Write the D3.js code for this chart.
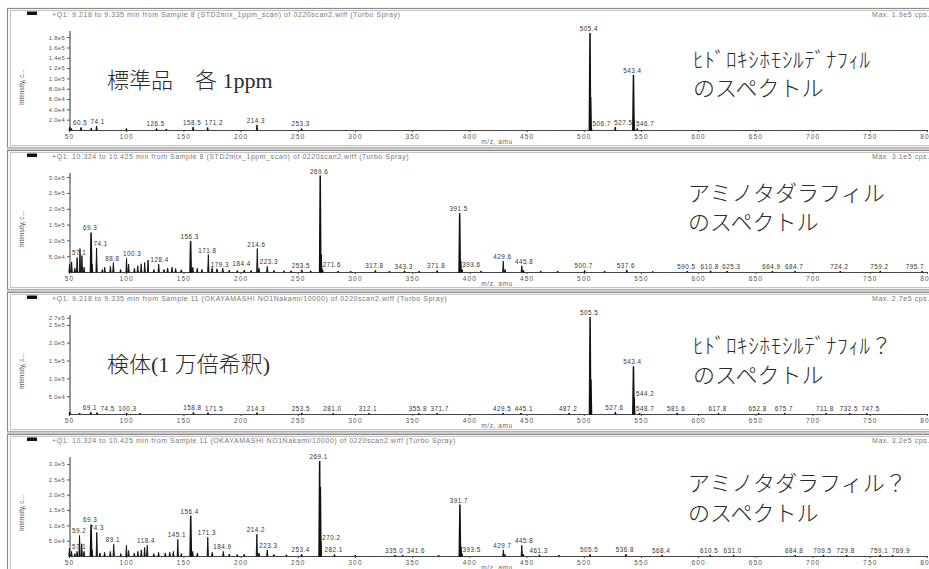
<!DOCTYPE html>
<html>
<head>
<meta charset="utf-8">
<script src="https://cdn.jsdelivr.net/npm/d3@7"></script>
<style>
  html, body { margin: 0; padding: 0; background: #fff; }
  svg { display: block; }
</style>
</head>
<body>
<svg id="chart" width="929" height="569"></svg>
<script>
// ---- Scan headers and notes for the four Q1 spectra ----
const scanTitles = [
  "+Q1: 9.218 to 9.335 min from Sample 8 (STD2mix_1ppm_scan) of 0220scan2.wiff (Turbo Spray)",
  "+Q1: 10.324 to 10.425 min from Sample 8 (STD2mix_1ppm_scan) of 0220scan2.wiff (Turbo Spray)",
  "+Q1: 9.218 to 9.335 min from Sample 11 (OKAYAMASHI NO1Nakami/10000) of 0220scan2.wiff (Turbo Spray)",
  "+Q1: 10.324 to 10.425 min from Sample 11 (OKAYAMASHI NO1Nakami/10000) of 0220scan2.wiff (Turbo Spray)"
];
const maxLabels = ["Max. 1.9e5 cps.", "Max. 3.1e5 cps.", "Max. 2.7e5 cps.", "Max. 3.2e5 cps."];
const sampleNotes = ["標準品　各 1ppm", "", "検体(1 万倍希釈)", ""];
const compoundNotes = [
  ["ﾋﾄﾞﾛｷｼﾎﾓｼﾙﾃﾞﾅﾌｨﾙ", "のスペクトル"],
  ["アミノタダラフィル", "のスペクトル"],
  ["ﾋﾄﾞﾛｷｼﾎﾓｼﾙﾃﾞﾅﾌｨﾙ？", "のスペクトル"],
  ["アミノタダラフィル？", "のスペクトル"]
];

// ---- Axes ----
const mzDomain = [50, 800];
const mzTicks = d3.range(50, 801, 50);
const intensityMax = [1.9e5, 3.1e5, 2.75e5, 3.2e5];
const intensityTicks = [
  [2e4, 4e4, 6e4, 8e4, 1e5, 1.2e5, 1.4e5, 1.6e5, 1.8e5],
  [5e4, 1e5, 1.5e5, 2e5, 2.5e5, 3e5],
  [5e4, 1e5, 1.5e5, 2e5, 2.5e5, 2.7e5],
  [5e4, 1e5, 1.5e5, 2e5, 2.5e5, 3e5]
];

// ---- Peak lists: [m/z, intensity (cps), labelled?] ----
const peaksStd1 = [
  [50.6, 6e3], [52.1, 3e3], [60.5, 5e3, 1], [69.5, 4e3], [74.1, 8e3, 1], [100.2, 3e3],
  [126.5, 3e3, 1], [135.1, 2e3], [158.5, 6e3, 1], [171.2, 5e3, 1], [214.3, 1e4, 1],
  [253.3, 3e3, 1], [505.4, 1.88e5, 1], [505.9, 6.4e4], [506.7, 3e3, 1], [527.5, 6e3, 1],
  [543.4, 1.07e5, 1], [543.9, 2e4], [546.7, 3e3, 1]
];
const peaksStd2 = [
  [50.5, 2.5e4], [52.3, 3.2e4], [55.1, 1.2e4], [57.1, 4.6e4, 1], [59.6, 7.4e4], [61.3, 5.2e4], [63.2, 1.5e4],
  [69.3, 1.25e5, 1], [70.2, 2.5e4], [74.1, 7.6e4, 1], [79.1, 8e3], [81.2, 1.5e4], [86.2, 1.8e4], [88.8, 3e4, 1],
  [95.1, 8e3], [100.3, 4.3e4, 1], [102.1, 2.5e4], [107.2, 1.2e4], [110.1, 2e4], [113.1, 2.6e4], [116.2, 3e4],
  [119.1, 3.8e4], [124.2, 8e3], [128.4, 2.5e4, 1], [133.1, 8e3], [136.2, 1.3e4], [140.1, 1.5e4], [143.2, 1.1e4],
  [148.1, 7e3], [156.3, 9.8e4, 1], [158.2, 1.5e4], [162.1, 1.2e4], [166.2, 8e3], [171.8, 5.5e4, 1], [175.1, 1.4e4],
  [179.3, 1e4, 1], [184.4, 1.2e4, 1], [190.1, 6e3], [197.2, 5e3], [203.2, 6e3], [209.1, 5e3], [214.6, 7.4e4, 1],
  [216.1, 1.2e4], [223.3, 1.8e4, 1], [229.2, 5e3], [238.1, 4e3], [244.2, 4e3], [253.5, 7e3, 1], [261.2, 4e3],
  [269.6, 3.05e5, 1], [270.6, 5.5e4], [271.6, 8e3, 1], [285.2, 3e3], [296.1, 3e3], [317.8, 5e3, 1], [330.1, 3e3],
  [343.3, 4e3, 1], [356.2, 3e3], [371.8, 5e3, 1], [391.5, 1.86e5, 1], [392.5, 3.5e4], [393.6, 8e3, 1], [410.2, 3e3],
  [429.6, 3.4e4, 1], [431.2, 8e3], [445.8, 2e4, 1], [447.2, 6e3], [462.3, 3e3], [477.1, 3e3], [500.7, 5e3, 1],
  [518.2, 3e3], [537.6, 7e3, 1], [560.1, 2e3], [590.5, 3e3, 1], [610.8, 4e3, 1], [625.3, 3e3, 1], [664.9, 3e3, 1],
  [684.7, 3e3, 1], [724.2, 3e3, 1], [759.2, 3e3, 1], [795.7, 3e3, 1]
];
const peaksSample1 = [
  [50.6, 6e3], [59.2, 3e3], [69.1, 5e3, 1], [74.5, 4e3, 1], [100.3, 3e3, 1], [112.1, 2e3], [158.8, 5e3, 1],
  [171.5, 4e3, 1], [214.3, 4e3, 1], [253.5, 3e3, 1], [281.0, 2e3, 1], [312.1, 2e3, 1], [355.8, 2e3, 1],
  [371.7, 2e3, 1], [429.5, 3e3, 1], [445.1, 2e3, 1], [487.2, 3e3, 1], [505.5, 2.72e5, 1], [506.2, 9.7e4],
  [527.6, 6e3, 1], [543.4, 1.34e5, 1], [544.2, 4.6e4, 1], [548.7, 3e3, 1], [581.6, 3e3, 1], [617.8, 2e3, 1],
  [652.8, 2e3, 1], [675.7, 2e3, 1], [711.8, 2e3, 1], [732.5, 2e3, 1], [747.5, 2e3, 1]
];
const peaksSample2 = [
  [50.4, 2.5e4], [52.2, 1.5e4], [55.1, 8e3], [57.1, 1.5e4, 1], [59.2, 6.7e4, 1], [61.1, 4e4], [63.1, 1.5e4],
  [69.3, 1.03e5, 1], [70.2, 2e4], [74.3, 7.7e4, 1], [77.1, 1e4], [81.1, 1.2e4], [86.1, 1.5e4], [89.1, 3.8e4, 1],
  [95.2, 8e3], [100.2, 3.5e4], [102.1, 1.8e4], [107.1, 1e4], [110.2, 1.5e4], [113.2, 2e4], [116.1, 2.8e4],
  [118.4, 3.5e4, 1], [124.1, 8e3], [128.3, 1.2e4], [134.2, 1e4], [138.1, 1.2e4], [141.2, 1.5e4], [145.1, 5.4e4, 1],
  [148.2, 8e3], [156.4, 1.31e5, 1], [158.1, 1.5e4], [162.2, 1e4], [171.3, 6.1e4, 1], [175.2, 1.2e4],
  [184.9, 1.5e4, 1], [190.1, 6e3], [197.1, 5e3], [203.1, 6e3], [214.2, 7.1e4, 1], [216.1, 1e4], [223.3, 2e4, 1],
  [229.1, 5e3], [240.1, 4e3], [253.4, 6e3, 1], [269.1, 3.1e5, 1], [269.7, 2.25e5], [270.2, 4.5e4, 1],
  [282.1, 5e3, 1], [300.2, 3e3], [335.0, 3e3, 1], [341.6, 3e3, 1], [373.1, 3e3], [391.7, 1.68e5, 1],
  [392.7, 3e4], [393.5, 8e3, 1], [429.7, 2e4, 1], [431.1, 5e3], [445.8, 3.5e4, 1], [447.1, 6e3], [461.3, 4e3, 1],
  [478.2, 3e3], [505.5, 5e3, 1], [536.8, 6e3, 1], [568.4, 3e3, 1], [610.5, 3e3, 1], [631.0, 3e3, 1],
  [684.8, 3e3, 1], [709.5, 3e3, 1], [729.8, 3e3, 1], [759.1, 3e3, 1], [769.9, 3e3, 1]
];
const spectra = [peaksStd1, peaksStd2, peaksSample1, peaksSample2];

// ---- Layout ----
const W = 929;
const panelTop = [8, 150, 292, 434];
const panelH = 139;
const plotTop = 24, plotBase = 122;       // relative to panel top
const axisX = 70;

const svg = d3.select("#chart");
const x = d3.scaleLinear().domain(mzDomain).range([69, 927]);

const fmtY = v => v >= 1e5 ? (v / 1e5).toFixed(1) + "e5" : (v / 1e4).toFixed(1) + "e4";
const smallFont = "'Liberation Sans', Arial, sans-serif";
const noteFont = "'Liberation Serif', 'Noto Sans CJK JP', serif";
const labelSize = 6.3, labelSpacing = 0.5;
const charW = 3.55 + labelSpacing;   // approximate advance per character of a peak label

spectra.forEach((peaks, pi) => {
  const T = panelTop[pi];
  const g = svg.append("g").attr("transform", `translate(0,${T})`);

  // frame
  g.append("rect").attr("x", 7.5).attr("y", 0.5).attr("width", W).attr("height", panelH)
    .attr("fill", "#fff").attr("stroke", "#8c8c8c").attr("stroke-width", 1.2);
  g.append("rect").attr("x", 10.5).attr("y", 2.5).attr("width", W).attr("height", panelH - 4)
    .attr("fill", "none").attr("stroke", "#c4c4c4").attr("stroke-width", 1);
  g.append("rect").attr("x", 7).attr("y", panelH + 0.5).attr("width", W).attr("height", 2.5)
    .attr("fill", "#cfcfcf");

  // header
  g.append("rect").attr("x", 27).attr("y", 3.5).attr("width", 10).attr("height", 3.5).attr("fill", "#111");
  g.append("text").attr("x", 52).attr("y", 8.5).text(scanTitles[pi])
    .attr("font-family", smallFont).attr("font-size", 7).attr("letter-spacing", 0.55).attr("fill", "#777");
  g.append("text").attr("x", 872).attr("y", 8.5).text(maxLabels[pi])
    .attr("font-family", smallFont).attr("font-size", 7).attr("letter-spacing", 0.55).attr("fill", "#777");

  const y = d3.scaleLinear().domain([0, intensityMax[pi]]).range([plotBase, plotTop]);

  // y axis
  const yAxis = g.append("g").attr("transform", `translate(${axisX},0)`)
    .call(d3.axisLeft(y).tickValues(intensityTicks[pi]).tickFormat(fmtY).tickSize(3).tickPadding(2));
  yAxis.select(".domain").attr("d", `M0,${plotTop - 1}V${plotBase}`).attr("stroke", "#333");
  yAxis.selectAll(".tick line").attr("stroke", "#555");
  yAxis.selectAll("text").attr("font-family", smallFont).attr("font-size", 5.8)
    .attr("letter-spacing", 0.35).attr("fill", "#555");

  g.append("text").attr("transform", `translate(24,${(plotTop + plotBase) / 2 + 6}) rotate(-90)`)
    .attr("text-anchor", "middle").text("Intensity, c...")
    .attr("font-family", smallFont).attr("font-size", 6.5).attr("fill", "#555");

  // x axis
  const xAxis = g.append("g").attr("transform", `translate(0,${plotBase})`)
    .call(d3.axisBottom(x).tickValues(mzTicks).tickSize(2).tickPadding(2).tickSizeOuter(0));
  xAxis.select(".domain").attr("stroke", "#444");
  xAxis.selectAll(".tick line").attr("stroke", "#444");
  xAxis.selectAll("text").attr("font-family", smallFont).attr("font-size", 6.5)
    .attr("letter-spacing", 1.2).attr("fill", "#555");
  // minor ticks every 10 amu
  g.append("g").selectAll("line").data(d3.range(50, 801, 10)).join("line")
    .attr("x1", d => x(d)).attr("x2", d => x(d))
    .attr("y1", plotBase).attr("y2", plotBase + 1.2).attr("stroke", "#666").attr("stroke-width", 0.7);

  g.append("text").attr("x", 497).attr("y", plotBase + 14).attr("text-anchor", "middle")
    .text("m/z, amu").attr("font-family", smallFont).attr("font-size", 6.5)
    .attr("letter-spacing", 0.6).attr("fill", "#666");

  // peaks drawn as narrow profile triangles
  const data = peaks.map(p => ({ mz: p[0], v: p[1], lab: !!p[2] }));
  const halfW = 0.55;
  g.append("g").selectAll("path").data(data).join("path")
    .attr("d", d => `M${x(d.mz - halfW)},${plotBase}L${x(d.mz)},${y(d.v)}L${x(d.mz + halfW)},${plotBase}Z`)
    .attr("fill", "#111").attr("stroke", "#111")
    .attr("stroke-width", d => d.v > intensityMax[pi] * 0.3 ? 1.5 : 0.9)
    .attr("stroke-linejoin", "miter");

  // peak labels: centred over the peak, pushed aside when sitting on a taller peak,
  // and slid right past any label already placed; kept inside the plot area
  const placed = [];
  const labelled = data.filter(d => d.lab).sort((a, b) => a.mz - b.mz);
  labelled.forEach(d => {
    const txt = d.mz.toFixed(1);
    const w = txt.length * charW;
    const ty = y(d.v) - 2;
    let x0 = x(d.mz) - w / 2;
    const blocker = data.find(q => q !== d && q.v > d.v * 1.5 && y(q.v) < ty &&
      x(q.mz) > x0 - 1 && x(q.mz) < x0 + w + 1);
    if (blocker) x0 = d.mz >= blocker.mz ? x(blocker.mz) + 2.5 : x(blocker.mz) - 2.5 - w;
    x0 = Math.max(x0, axisX + 2);
    for (let iter = 0; iter < 6; iter++) {
      const hit = placed.find(b => x0 < b.x1 + 1 && x0 + w > b.x0 - 1 && ty - 6 < b.y1 && ty > b.y1 - 6);
      if (!hit) break;
      x0 = hit.x1 + 1.5;
    }
    x0 = Math.min(x0, 926 - w);
    placed.push({ x0, x1: x0 + w, y1: ty });
    g.append("text").attr("x", x0).attr("y", ty).text(txt)
      .attr("font-family", smallFont).attr("font-size", labelSize).attr("letter-spacing", labelSpacing)
      .attr("fill", "#333");
  });

  // notes
  if (sampleNotes[pi]) {
    g.append("text").attr("x", 107).attr("y", 80).text(sampleNotes[pi])
      .attr("font-family", noteFont).attr("font-size", 22).attr("font-weight", 300).attr("fill", "#2a2a2a");
  }
  const nx = pi % 2 === 0 ? 693 : 688;
  const ny = pi === 0 ? [59, 88] : pi === 1 ? [51, 80] : pi === 2 ? [61, 91] : [57, 87];
  compoundNotes[pi].forEach((t, k) => {
    const halfWidth = k === 0 && pi % 2 === 0;
    g.append("text").attr("x", nx).attr("y", ny[k]).text(t)
      .attr("font-family", "'Noto Sans CJK JP', sans-serif").attr("font-size", halfWidth ? 21 : 22)
      .attr("letter-spacing", halfWidth ? 0.7 : 0)
      .attr("font-weight", 300).attr("fill", "#2a2a2a");
  });
});
</script>
</body>
</html>
